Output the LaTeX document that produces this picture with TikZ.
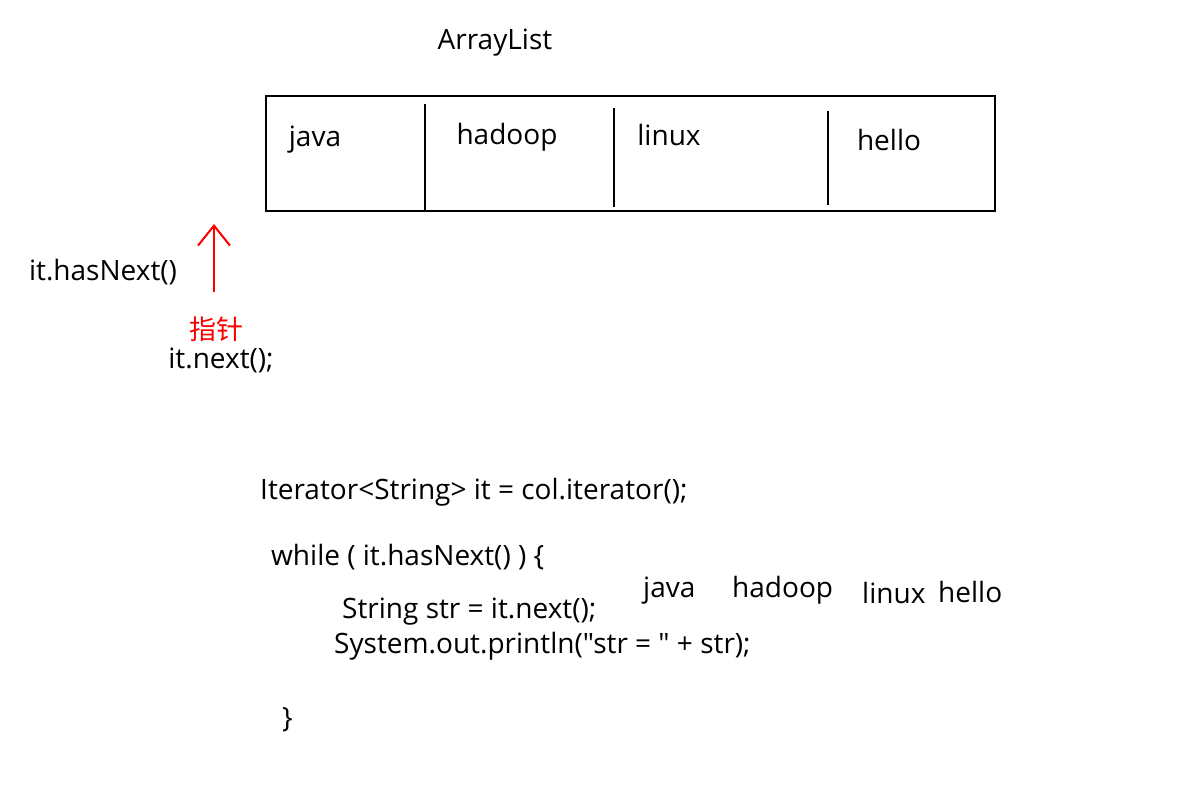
\documentclass[tikz,border=0pt]{standalone}
\usepackage{fontspec}
\newfontfamily\codefont{Open Sans}
\newfontfamily\cjk{Noto Sans CJK SC}
\usetikzlibrary{arrows.meta}

\begin{document}
\begin{tikzpicture}[x=1pt,y=-1pt,
    txt/.style={font=\codefont\fontsize{28}{32}\selectfont, inner sep=0pt, yshift=-2.5pt},
    code/.style={txt, anchor=west},
    cellline/.style={line width=2pt}]
        \useasboundingbox (0,0) rectangle (1200,789);
        % ArrayList with its four cells
        \node[txt] (title) at (495,40) {ArrayList};
        \draw[cellline] (266,96) rectangle (995,211);
        \draw[cellline] (425,104) -- (425,211);
        \draw[cellline] (614,108) -- (614,207);
        \draw[cellline] (828,111) -- (828,205);
        \node[txt] (cjava) at (315,137) {java};
        \node[txt] (chadoop) at (507,135) {hadoop};
        \node[txt] (clinux) at (669,133) {linux};
        \node[txt] (chello) at (889,138) {hello};
        % pointer before the first cell
        \coordinate (tail) at (214,292);
        \coordinate (tip) at (214,224);
        \draw[red, line width=2pt, -{Straight Barb[length=20pt, width=32pt]}] (tail) -- (tip);
        \node[txt] (hasnext) at (103,270) {it.hasNext()};
        \node[txt, text=red, font=\cjk\fontsize{27}{30}\selectfont] (ptr) at (216,327) {指针};
        \node[txt] (next) at (221,358) {it.next();};
        % loop code
        \node[code] (decl) at (260,490) {Iterator<String> it = col.iterator();};
        \node[code] (loop) at (271,555) {while ( it.hasNext() ) \{};
        \node[code] (body1) at (342,609) {String str = it.next();};
        \node[code] (body2) at (334,644) {System.out.println("str = " + str);};
        \node[code] (close) at (282,717) {\}};
        % printed values
        \node[code] (ojava) at (643,588) {java};
        \node[code] (ohadoop) at (732,588) {hadoop};
        \node[code] (olinux) at (862,590) {linux};
        \node[code] (ohello) at (938,589) {hello};
      \end{tikzpicture}
\end{document}
